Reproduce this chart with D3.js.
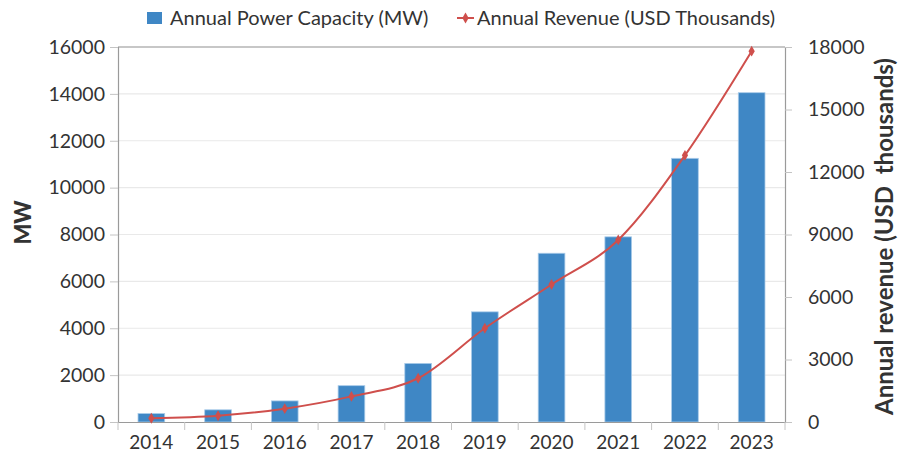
<!DOCTYPE html>
<html>
<head>
<meta charset="utf-8">
<script src="https://cdn.jsdelivr.net/npm/d3@7"></script>
<style>
  html, body { margin: 0; padding: 0; background: #fff; }
  svg { display: block; }
  text { font-family: Lato, "Open Sans", sans-serif; fill: #333; }
</style>
</head>
<body>
<svg id="chart" width="901" height="457"></svg>
<script>
// Yearly capacity (MW, bars) and revenue (USD thousands, line)
const years = ["2014", "2015", "2016", "2017", "2018", "2019", "2020", "2021", "2022", "2023"];
const capacityMW = [360, 520, 900, 1550, 2500, 4700, 7200, 7900, 11250, 14050];
const revenueUSDk = [180, 300, 640, 1230, 2100, 4500, 6600, 8740, 12800, 17800];
const leftTicks = [0, 2000, 4000, 6000, 8000, 10000, 12000, 14000, 16000];
const rightTicks = [0, 3000, 6000, 9000, 12000, 15000, 18000];

const svg = d3.select("#chart");
const m = { left: 118, right: 785, top: 47, bottom: 422 };

const x = d3.scaleBand().domain(years).range([m.left, m.right]).paddingInner(0.6).paddingOuter(0.3);
const yL = d3.scaleLinear().domain([0, 16000]).range([m.bottom, m.top]);
const yR = d3.scaleLinear().domain([0, 18000]).range([m.bottom, m.top]);

const axisColor = "#9a9a9a";
const tickFont = "19.5px";

// horizontal gridlines
svg.append("g")
  .selectAll("line")
  .data(leftTicks.filter(d => d > 0))
  .join("line")
  .attr("x1", m.left).attr("x2", m.right)
  .attr("y1", d => yL(d)).attr("y2", d => yL(d))
  .attr("stroke", "#e9e9e9").attr("stroke-width", 1.2);

// top frame line
svg.append("line")
  .attr("x1", m.left).attr("x2", m.right)
  .attr("y1", m.top).attr("y2", m.top)
  .attr("stroke", axisColor).attr("stroke-width", 1.2);

// bars
svg.append("g")
  .selectAll("rect")
  .data(years)
  .join("rect")
  .attr("x", d => x(d))
  .attr("width", x.bandwidth())
  .attr("y", (d, i) => yL(capacityMW[i]))
  .attr("height", (d, i) => yL(0) - yL(capacityMW[i]))
  .attr("fill", "#3f87c5")
  .attr("stroke", "#a9cbe9")
  .attr("stroke-width", 0.8);

// left axis
const gL = svg.append("g").attr("transform", `translate(${m.left},0)`)
  .call(d3.axisLeft(yL).tickValues(leftTicks).tickSize(8).tickPadding(5).tickFormat(d3.format("d")));
gL.select(".domain").attr("stroke", axisColor).attr("stroke-width", 1.2);
gL.selectAll(".tick line").attr("stroke", "#c4c4c4");
gL.selectAll(".tick text").style("font-size", tickFont).attr("fill", "#333");

// right axis
const gR = svg.append("g").attr("transform", `translate(${m.right},0)`)
  .call(d3.axisRight(yR).tickValues(rightTicks).tickSize(7).tickPadding(16).tickFormat(d3.format("d")));
gR.select(".domain").attr("stroke", axisColor).attr("stroke-width", 1.2);
gR.selectAll(".tick line").attr("stroke", "#c4c4c4");
gR.selectAll(".tick text").style("font-size", tickFont).attr("fill", "#333");

// bottom axis with ticks on category boundaries
const step = x.step();
const gB = svg.append("g").attr("transform", `translate(0,${m.bottom})`)
  .call(d3.axisBottom(x).tickSize(0).tickPadding(14));
gB.select(".domain").attr("stroke", axisColor).attr("stroke-width", 1.2);
gB.selectAll(".tick text").style("font-size", "19px").attr("fill", "#333");
gB.append("g")
  .selectAll("line")
  .data(d3.range(years.length + 1))
  .join("line")
  .attr("x1", i => m.left + i * step).attr("x2", i => m.left + i * step)
  .attr("y1", 0).attr("y2", 8)
  .attr("stroke", "#c4c4c4");

// revenue line
const lineColor = "#cf4f4c";
const line = d3.line()
  .x((d, i) => x(years[i]) + x.bandwidth() / 2)
  .y(d => yR(d))
  .curve(d3.curveCardinal.tension(0));
svg.append("path")
  .datum(revenueUSDk)
  .attr("d", line)
  .attr("fill", "none")
  .attr("stroke", lineColor)
  .attr("stroke-width", 2);

const diamond = d3.symbol().type(d3.symbolDiamond).size(34);
svg.append("g")
  .selectAll("path")
  .data(revenueUSDk)
  .join("path")
  .attr("d", diamond)
  .attr("transform", (d, i) => `translate(${x(years[i]) + x.bandwidth() / 2},${yR(d)})`)
  .attr("fill", lineColor);

// axis titles
svg.append("text")
  .attr("transform", `translate(31,${(m.top + m.bottom) / 2 - 12}) rotate(-90)`)
  .attr("text-anchor", "middle")
  .style("font-size", "22px").style("font-weight", "900")
  .attr("fill", "#2b2b2b")
  .text("MW");

svg.append("text")
  .attr("transform", `translate(893,${(m.top + m.bottom) / 2 + 2}) rotate(-90)`)
  .attr("text-anchor", "middle")
  .style("font-size", "24px").style("font-weight", "bold")
  .attr("fill", "#2b2b2b")
  .attr("xml:space", "preserve")
  .text("Annual revenue (USD\u00a0 thousands)");

// legend
const lg = svg.append("g");
lg.append("rect").attr("x", 147).attr("y", 12).attr("width", 15).attr("height", 12).attr("fill", "#3f87c5");
lg.append("text").attr("x", 170).attr("y", 25).style("font-size", "20px").text("Annual Power Capacity (MW)");
lg.append("line").attr("x1", 457).attr("x2", 474).attr("y1", 18).attr("y2", 18).attr("stroke", lineColor).attr("stroke-width", 2);
lg.append("path").attr("d", diamond).attr("transform", "translate(465.5,18)").attr("fill", lineColor);
lg.append("text").attr("x", 477).attr("y", 25).style("font-size", "20px").text("Annual Revenue (USD Thousands)");
</script>
</body>
</html>
